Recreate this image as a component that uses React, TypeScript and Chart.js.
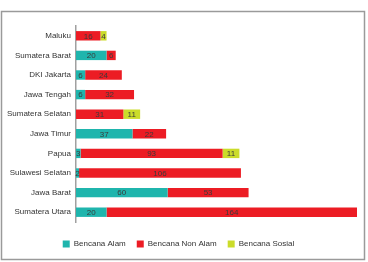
import React, { useEffect, useRef } from "react";
import { Chart, registerables } from "chart.js";

Chart.register(...registerables);

const provinces = [
  "Maluku",
  "Sumatera Barat",
  "DKI Jakarta",
  "Jawa Tengah",
  "Sumatera Selatan",
  "Jawa Timur",
  "Papua",
  "Sulawesi Selatan",
  "Jawa Barat",
  "Sumatera Utara",
];
const bencanaAlam = [0, 20, 6, 6, 0, 37, 3, 2, 60, 20];
const bencanaNonAlam = [16, 6, 24, 32, 31, 22, 93, 106, 53, 164];
const bencanaSosial = [4, 0, 0, 0, 11, 0, 11, 0, 0, 0];

const FONT = "'Liberation Sans', Arial, sans-serif";

// Writes each segment's value in the middle of its bar piece.
const segmentLabels = {
  id: "segmentLabels",
  afterDatasetsDraw(chart: any) {
    const ctx = chart.ctx;
    ctx.save();
    ctx.font = `8px ${FONT}`;
    ctx.fillStyle = "#3a3a3a";
    ctx.textAlign = "center";
    ctx.textBaseline = "middle";
    chart.data.datasets.forEach((ds: any, di: number) => {
      const meta = chart.getDatasetMeta(di);
      meta.data.forEach((bar: any, i: number) => {
        const v = ds.data[i];
        if (!v) return;
        const cx = (bar.x + bar.base) / 2;
        ctx.fillText(String(v), cx, bar.y + 0.5);
      });
    });
    ctx.restore();
  },
};

// Thin grey frame around the whole figure.
const frame = {
  id: "frame",
  beforeDraw(chart: any) {
    const ctx = chart.ctx;
    ctx.save();
    ctx.strokeStyle = "#9a9a9a";
    ctx.lineWidth = 1.5;
    ctx.strokeRect(1.5, 11.5, 363, 248);
    ctx.restore();
  },
};

export default function App() {
  const ref = useRef<HTMLCanvasElement>(null);

  useEffect(() => {
    if (!ref.current) return;
    const chart = new Chart(ref.current, {
      type: "bar",
      data: {
        labels: provinces,
        datasets: [
          { label: "Bencana Alam", data: bencanaAlam, backgroundColor: "#1fb5ad" },
          { label: "Bencana Non Alam", data: bencanaNonAlam, backgroundColor: "#ec1c24" },
          { label: "Bencana Sosial", data: bencanaSosial, backgroundColor: "#cbdc2a" },
        ],
      },
      options: {
        indexAxis: "y",
        animation: false,
        responsive: false,
        maintainAspectRatio: false,
        datasets: { bar: { categoryPercentage: 1, barPercentage: 0.48 } },
        layout: { padding: { top: 26, right: 11, bottom: 4, left: 0 } },
        plugins: {
          tooltip: { enabled: false },
          legend: {
            position: "bottom",
            labels: {
              boxWidth: 7,
              boxHeight: 7,
              padding: 11,
              color: "#333",
              font: { family: FONT, size: 8 },
            },
          },
        },
        scales: {
          x: {
            stacked: true,
            min: 0,
            max: 184,
            display: true,
            grid: { display: false },
            border: { display: false },
            ticks: { display: false },
            afterFit(scale: any) {
              scale.height = 7;
            },
          },
          y: {
            stacked: true,
            grid: { display: false, drawTicks: false },
            border: { display: true, color: "#a0a0a0", width: 1.5 },
            ticks: { color: "#333", padding: 5, font: { family: FONT, size: 8 } },
            afterFit(scale: any) {
              scale.width = 76;
            },
          },
        },
      },
      plugins: [frame, segmentLabels],
    });
    return () => chart.destroy();
  }, []);

  return (
    <div style={{ position: "absolute", left: 0, top: 0, width: 368, height: 262, background: "#fff" }}>
      <canvas ref={ref} width={368} height={262} />
    </div>
  );
}
